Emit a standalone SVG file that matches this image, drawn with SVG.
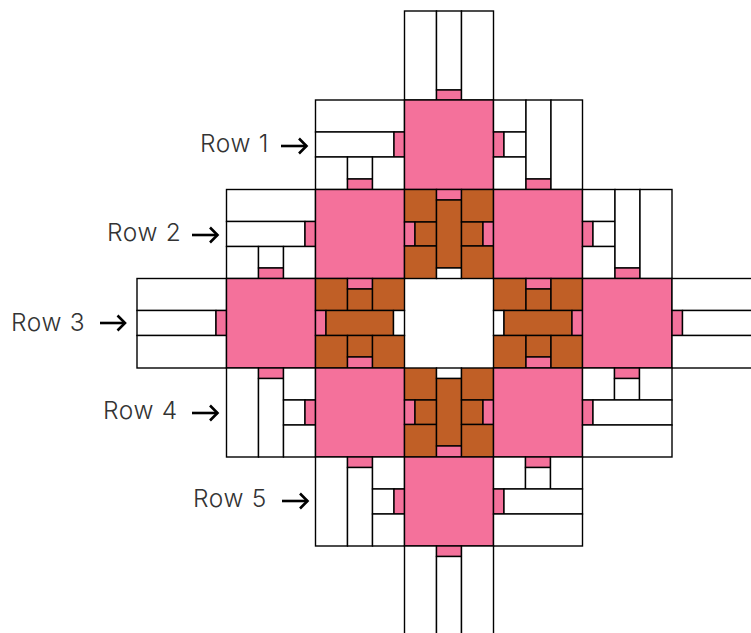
<svg xmlns="http://www.w3.org/2000/svg" width="751" height="633" viewBox="0 0 751 633">
<style>
rect{stroke:#000;stroke-width:1.4}
.w{fill:#fff}.p{fill:#f4719b}.b{fill:#c05f26}
text{font-family:"Inter","Liberation Sans",sans-serif;font-weight:300;font-size:24.500px;letter-spacing:.65px;fill:#333}
.a{fill:none;stroke:#000;stroke-width:2.6}
</style>
<defs>
<marker id="h" markerUnits="userSpaceOnUse" markerWidth="14" markerHeight="20" refX="11" refY="10" orient="auto">
<path d="M3.500 2.500L11 10L3.500 17.500" fill="none" stroke="#000" stroke-width="2.600"/>
</marker>
</defs>
<rect width="751" height="633" fill="#fff" style="stroke:none"/>
<g id="block-top">
<rect class="w" x="404.5" y="11" width="32" height="89"/><rect class="w" x="436.5" y="11" width="25" height="79"/><rect class="p" x="436.5" y="90" width="25" height="10"/><rect class="w" x="461.5" y="11" width="32" height="89"/>
</g>
<g id="block-r1-left">
<rect class="w" x="315.5" y="100" width="89" height="32"/><rect class="w" x="315.5" y="132" width="78.5" height="25"/><rect class="p" x="394" y="132" width="10.5" height="25"/><rect class="w" x="315.5" y="157" width="32" height="32.5"/><rect class="w" x="347.5" y="157" width="25" height="22"/><rect class="p" x="347.5" y="179" width="25" height="10.5"/><rect class="w" x="372.5" y="157" width="32" height="32.5"/>
</g>
<g id="block-r1-center"><rect class="p" x="404.5" y="100" width="89" height="89.5"/></g>
<g id="block-r1-right">
<rect class="w" x="493.5" y="100" width="32.5" height="32"/><rect class="p" x="493.5" y="132" width="10.5" height="25"/><rect class="w" x="504" y="132" width="22" height="25"/><rect class="w" x="493.5" y="157" width="32.5" height="32.5"/><rect class="w" x="526" y="100" width="25" height="79"/><rect class="p" x="526" y="179" width="25" height="10.5"/><rect class="w" x="551" y="100" width="31.5" height="89.5"/>
</g>
<g id="block-r2-left">
<rect class="w" x="226.500" y="189.5" width="89" height="32"/><rect class="w" x="226.5" y="221.500" width="78.5" height="25"/><rect class="p" x="305" y="221.5" width="10.5" height="25"/><rect class="w" x="226.5" y="246.5" width="32" height="32"/><rect class="w" x="258.5" y="246.5" width="25" height="21.5"/><rect class="p" x="258.5" y="268" width="25" height="10.5"/><rect class="w" x="283.5" y="246.5" width="32" height="32"/>
</g>
<g id="block-r2-pink-left"><rect class="p" x="315.5" y="189.5" width="89" height="89"/></g>
<g id="block-r2-center">
<rect class="b" x="404.5" y="189.5" width="32" height="32.5"/><rect class="p" x="404.5" y="222" width="10.500" height="24"/><rect class="b" x="415" y="222" width="21.5" height="24"/><rect class="b" x="404.5" y="246" width="32" height="32.5"/>
<rect class="p" x="436.5" y="189.5" width="25" height="10.5"/><rect class="b" x="436.5" y="200" width="25" height="68"/><rect class="w" x="436.5" y="268" width="25" height="10.5"/>
<rect class="b" x="461.5" y="189.5" width="32" height="32.5"/><rect class="b" x="461.5" y="222" width="21.5" height="24"/><rect class="p" x="483" y="222" width="10.5" height="24"/><rect class="b" x="461.5" y="246" width="32" height="32.5"/>
</g>
<g id="block-r2-pink-right"><rect class="p" x="493.5" y="189.5" width="89" height="89"/></g>
<g id="block-r2-right">
<rect class="w" x="582.5" y="189.5" width="32.500" height="32"/><rect class="p" x="582.5" y="221.5" width="10.5" height="25"/><rect class="w" x="593" y="221.5" width="22" height="25"/><rect class="w" x="582.5" y="246.5" width="32.5" height="32"/><rect class="w" x="615" y="189.5" width="25" height="78.5"/><rect class="p" x="615" y="268" width="25" height="10.5"/><rect class="w" x="640" y="189.5" width="32" height="89"/>
</g>
<g id="block-r3-far-left">
<rect class="w" x="137" y="278.5" width="89.5" height="32"/><rect class="w" x="137" y="310.5" width="79" height="25"/><rect class="p" x="216" y="310.5" width="10.5" height="25"/><rect class="w" x="137" y="335.5" width="89.5" height="32.5"/>
</g>
<g id="block-r3-pink-left"><rect class="p" x="226.5" y="278.5" width="89" height="89.5"/></g>
<g id="block-r3-brown-left">
<rect class="b" x="315.5" y="278.5" width="32" height="32"/><rect class="p" x="347.5" y="278.5" width="25" height="10.5"/><rect class="b" x="347.5" y="289" width="25" height="21.5"/><rect class="b" x="372.5" y="278.5" width="32" height="32"/>
<rect class="p" x="315.5" y="310.5" width="10.5" height="25"/><rect class="b" x="326" y="310.5" width="67.500" height="25"/><rect class="w" x="393.5" y="310.5" width="11" height="25"/>
<rect class="b" x="315.5" y="335.5" width="32" height="32.5"/><rect class="b" x="347.5" y="335.5" width="25" height="21.5"/><rect class="p" x="347.5" y="357" width="25" height="11"/><rect class="b" x="372.5" y="335.5" width="32" height="32.5"/>
</g>
<g id="block-r3-brown-right">
<rect class="b" x="493.5" y="278.5" width="32.5" height="32"/><rect class="p" x="526" y="278.5" width="25" height="10.5"/><rect class="b" x="526" y="289" width="25" height="21.5"/><rect class="b" x="551" y="278.5" width="31.5" height="32"/>
<rect class="w" x="493.5" y="310.5" width="10.5" height="25"/><rect class="b" x="504" y="310.5" width="68" height="25"/><rect class="p" x="572" y="310.5" width="10.5" height="25"/>
<rect class="b" x="493.5" y="335.5" width="32.5" height="32.5"/><rect class="b" x="526" y="335.5" width="25" height="21.5"/><rect class="p" x="526" y="357" width="25" height="11"/><rect class="b" x="551" y="335.5" width="31.5" height="32.5"/>
</g>
<g id="block-r3-pink-right"><rect class="p" x="582.5" y="278.5" width="89.5" height="89.5"/></g>
<g id="block-r3-far-right">
<rect class="w" x="672" y="278.5" width="90" height="32"/><rect class="p" x="672" y="310.5" width="10.5" height="25"/><rect class="w" x="682.5" y="310.5" width="80" height="25"/><rect class="w" x="672" y="335.5" width="90" height="32.5"/>
</g>
<g id="block-r4-left">
<rect class="w" x="226.5" y="368" width="32" height="89"/><rect class="p" x="258.5" y="368" width="25" height="10.500"/><rect class="w" x="258.5" y="378.5" width="25" height="78.5"/><rect class="w" x="283.5" y="368" width="32" height="32"/><rect class="w" x="283.5" y="400" width="21.5" height="25"/><rect class="p" x="305" y="400" width="10.5" height="25"/><rect class="w" x="283.5" y="425" width="32" height="32"/>
</g>
<g id="block-r4-pink-left"><rect class="p" x="315.5" y="368" width="89" height="89"/></g>
<g id="block-r4-center">
<rect class="b" x="404.5" y="368" width="32" height="32"/><rect class="p" x="404.5" y="400" width="10.5" height="24.500"/><rect class="b" x="415" y="400" width="21.5" height="24.5"/><rect class="b" x="404.5" y="424.5" width="32" height="32.500"/>
<rect class="w" x="436.5" y="368" width="25" height="10.5"/><rect class="b" x="436.5" y="378.5" width="25" height="67.500"/><rect class="p" x="436.5" y="446" width="25" height="11"/>
<rect class="b" x="461.5" y="368" width="32" height="32"/><rect class="b" x="461.5" y="400" width="21.5" height="24.5"/><rect class="p" x="483" y="400" width="10.5" height="24.5"/><rect class="b" x="461.5" y="424.5" width="32" height="32.5"/>
</g>
<g id="block-r4-pink-right"><rect class="p" x="493.5" y="368" width="89" height="89"/></g>
<g id="block-r4-right">
<rect class="w" x="582.5" y="368" width="32" height="32"/><rect class="p" x="614.5" y="368" width="25" height="10.5"/><rect class="w" x="614.5" y="378.5" width="25" height="21.5"/><rect class="w" x="639.5" y="368" width="32.5" height="32"/><rect class="p" x="582.5" y="400" width="10.5" height="25"/><rect class="w" x="593" y="400" width="79" height="25"/><rect class="w" x="582.5" y="425" width="89.5" height="32"/>
</g>
<g id="block-r5-left">
<rect class="w" x="315.5" y="457" width="32" height="89"/><rect class="p" x="347.5" y="457" width="25" height="10.5"/><rect class="w" x="347.5" y="467.5" width="25" height="78.5"/><rect class="w" x="372.5" y="457" width="32" height="32"/><rect class="w" x="372.5" y="489" width="21.5" height="25"/><rect class="p" x="394" y="489" width="10.5" height="25"/><rect class="w" x="372.5" y="514" width="32" height="32"/>
</g>
<g id="block-r5-center"><rect class="p" x="404.5" y="457" width="89" height="89"/></g>
<g id="block-r5-right">
<rect class="w" x="493.5" y="457" width="32" height="32"/><rect class="p" x="525.5" y="457" width="25" height="10.5"/><rect class="w" x="525.5" y="467.5" width="25" height="21.5"/><rect class="w" x="550.5" y="457" width="32" height="32"/><rect class="p" x="493.5" y="489" width="10.5" height="25"/><rect class="w" x="504" y="489" width="78.5" height="25"/><rect class="w" x="493.5" y="514" width="89" height="32"/>
</g>
<g id="block-bottom">
<rect class="w" x="404.5" y="546" width="32" height="100"/><rect class="p" x="436.5" y="546" width="25" height="10.500"/><rect class="w" x="436.5" y="556.5" width="25" height="90"/><rect class="w" x="461.5" y="546" width="32" height="100"/>
</g>
<g id="labels">
<text x="200" y="152">Row 1</text>
<text x="107" y="241">Row 2</text>
<text x="11" y="331">Row 3</text>
<text x="103" y="419">Row 4</text>
<text x="193" y="507">Row 5</text>
</g>
<g id="connectors">
<path class="a" marker-end="url(#h)" d="M281 146H306.500"/>
<path class="a" marker-end="url(#h)" d="M192 235H217.500"/>
<path class="a" marker-end="url(#h)" d="M100 323H125"/>
<path class="a" marker-end="url(#h)" d="M192 413H217.500"/>
<path class="a" marker-end="url(#h)" d="M282 501H307.500"/>
</g>
</svg>
